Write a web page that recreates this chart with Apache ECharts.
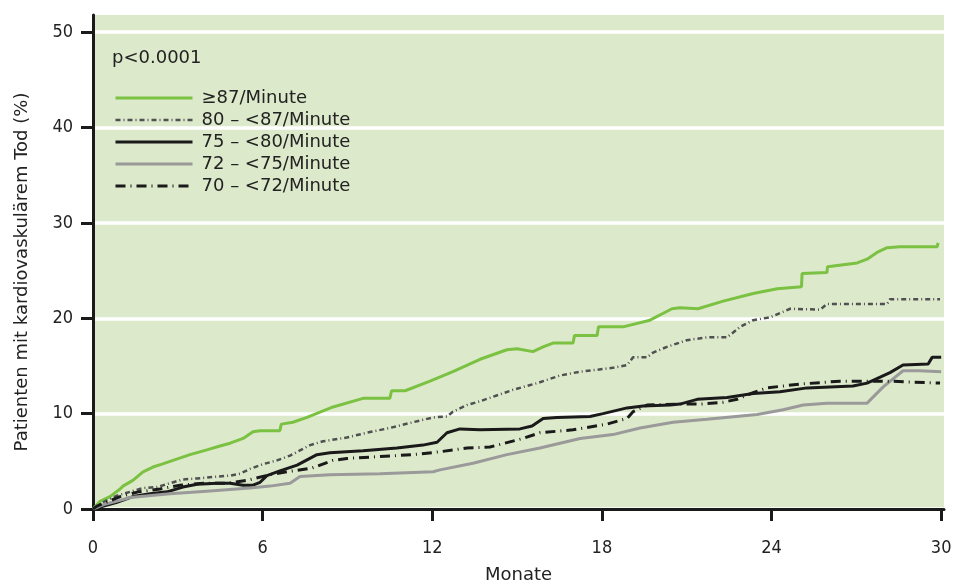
<!DOCTYPE html>
<html>
<head>
<meta charset="utf-8">
<script src="https://cdn.jsdelivr.net/npm/echarts@6/dist/echarts.min.js"></script>
<style>
html,body{margin:0;padding:0;background:#fff;}
#chart{width:954px;height:584px;}
</style>
</head>
<body>
<div id="chart"></div>
<script>
// Tick labels
var xTicks = [0, 6, 12, 18, 24, 30];
var yTicks = [0, 10, 20, 30, 40, 50];
var seriesNames = ['\u226587/Minute', '80 \u2013 <87/Minute', '75 \u2013 <80/Minute', '72 \u2013 <75/Minute', '70 \u2013 <72/Minute'];

// [months, percent]
var hr87 = [[0,0],[0.25,0.8],[0.6,1.3],[0.96,2.1],[1.06,2.4],[1.41,3.0],[1.77,3.9],[2.12,4.4],[2.44,4.7],[2.83,5.1],[3.43,5.7],[4.03,6.2],[4.49,6.6],[4.85,6.9],[5.31,7.4],[5.66,8.1],[5.91,8.2],[6.61,8.2],[6.66,8.9],[7.07,9.1],[7.57,9.6],[8.49,10.7],[9.55,11.6],[10.5,11.6],[10.56,12.4],[11.04,12.4],[11.92,13.4],[12.73,14.4],[13.69,15.7],[14.64,16.7],[15.0,16.8],[15.56,16.5],[15.92,17.0],[16.27,17.4],[16.98,17.4],[17.03,18.2],[17.83,18.2],[17.88,19.1],[18.75,19.1],[19.7,19.8],[20.48,21.0],[20.76,21.1],[21.4,21.0],[22.29,21.8],[23.35,22.6],[24.2,23.1],[25.06,23.3],[25.08,24.7],[25.96,24.8],[25.98,25.4],[27.03,25.8],[27.38,26.2],[27.73,26.9],[28.09,27.4],[28.55,27.5],[29.86,27.5],[29.89,27.9]];
var hr80 = [[0,0],[0.35,0.7],[0.85,1.4],[1.31,1.8],[1.77,2.2],[2.26,2.3],[2.72,2.7],[3.18,3.1],[3.68,3.2],[4.39,3.4],[4.85,3.5],[5.2,3.7],[5.55,4.2],[6.01,4.7],[6.51,5.1],[6.97,5.6],[7.68,6.7],[8.14,7.1],[8.98,7.5],[9.69,8.0],[10.5,8.5],[11.32,9.1],[12.03,9.6],[12.52,9.7],[12.73,10.2],[13.23,10.9],[13.69,11.3],[14.86,12.5],[15.71,13.2],[16.52,14.0],[17.23,14.4],[18.39,14.8],[18.89,15.1],[19.1,15.9],[19.6,15.9],[19.81,16.4],[20.3,17.0],[21.0,17.7],[21.72,18.0],[22.43,18.0],[22.89,19.1],[23.35,19.8],[23.95,20.1],[24.66,21.0],[25.72,20.9],[25.96,21.5],[28.09,21.5],[28.19,22.0],[29.96,22.0]];
var hr75 = [[0,0],[0.25,0.2],[0.85,0.7],[1.41,1.3],[2.02,1.6],[2.62,1.8],[3.18,2.3],[3.68,2.6],[4.39,2.7],[4.85,2.7],[5.31,2.5],[5.66,2.5],[5.91,2.8],[6.15,3.5],[6.61,4.0],[7.22,4.6],[7.92,5.7],[8.38,5.9],[9.55,6.1],[10.75,6.4],[11.67,6.7],[12.17,7.0],[12.52,8.0],[12.98,8.4],[13.69,8.3],[15.1,8.4],[15.53,8.7],[15.92,9.5],[16.41,9.6],[17.58,9.7],[18.04,10.0],[18.89,10.6],[19.46,10.8],[20.41,10.9],[20.76,11.0],[21.37,11.5],[22.43,11.7],[23.35,12.1],[24.3,12.3],[25.26,12.7],[26.88,12.9],[27.38,13.2],[28.19,14.3],[28.65,15.1],[29.54,15.2],[29.68,15.9],[30.0,15.9]];
var hr72 = [[0,0],[0.42,0.5],[0.96,0.9],[1.31,1.2],[2.72,1.6],[4.14,1.9],[5.55,2.2],[6.26,2.4],[6.97,2.7],[7.32,3.4],[8.38,3.6],[10.15,3.7],[12.03,3.9],[12.27,4.1],[13.44,4.8],[14.64,5.7],[15.81,6.4],[17.23,7.4],[18.39,7.8],[19.35,8.5],[20.52,9.1],[21.72,9.4],[23.49,9.9],[24.41,10.4],[25.12,10.9],[25.96,11.1],[27.38,11.1],[27.95,12.8],[28.65,14.5],[29.25,14.5],[30.0,14.4]];
var hr70 = [[0,0],[0.14,0.3],[0.96,1.3],[1.6,1.8],[2.37,2.1],[3.08,2.5],[3.9,2.7],[4.74,2.7],[5.45,3.0],[6.26,3.6],[6.86,3.9],[7.75,4.3],[8.49,5.1],[8.98,5.3],[10.15,5.5],[11.32,5.7],[12.27,6.0],[13.23,6.4],[14.04,6.5],[15.21,7.4],[15.81,8.0],[16.98,8.3],[18.18,8.9],[18.89,9.5],[19.1,10.2],[19.6,10.9],[20.76,11.0],[21.47,11.0],[22.29,11.2],[22.78,11.5],[23.35,12.2],[23.84,12.7],[25.01,13.1],[26.42,13.4],[28.19,13.4],[29.96,13.2]];

var FONT = 'DejaVu Sans';
var TICKFONT = "'DejaVu Sans Condensed', 'Liberation Sans Narrow', 'DejaVu Sans'";
var chart = echarts.init(document.getElementById('chart'), null, {renderer: 'canvas'});
function mk(name, data, color, width, type) {
  return {
    name: name, type: 'line', data: data, symbol: 'none', showSymbol: false,
    smooth: false, animation: false,
    lineStyle: {color: color, width: width, type: type, cap: 'butt'},
    itemStyle: {color: color}
  };
}
chart.setOption({
  animation: false,
  backgroundColor: '#ffffff',
  title: {
    text: 'p<0.0001', left: 107, top: 44,
    textStyle: {fontFamily: FONT, fontSize: 18, fontWeight: 'normal', color: '#222'}
  },
  legend: {
    orient: 'vertical', left: 109, top: 84,
    itemWidth: 77, itemHeight: 14, itemGap: 4,
    data: seriesNames.map(function (n, i) {
      return i === 1 ? {name: n, lineStyle: {width: 2.5}} : {name: n};
    }),
    itemStyle: {opacity: 0},
    lineStyle: {width: 3},
    textStyle: {fontFamily: FONT, fontSize: 18, color: '#222', lineHeight: 18, padding: [0, 0, 0, 4]}
  },
  grid: {left: 93, right: 10, top: 15, bottom: 75, show: true, backgroundColor: '#dde9cb', borderWidth: 0,
         containLabel: false, outerBoundsMode: 'none'},
  xAxis: {
    type: 'value', min: 0, max: 30.1, interval: 6,
    name: 'Monate', nameLocation: 'middle', nameGap: 57,
    nameTextStyle: {fontFamily: FONT, fontSize: 18, color: '#222'},
    axisLine: {show: true, onZero: false, lineStyle: {color: '#1a1a1a', width: 3}},
    axisTick: {show: true, inside: false, length: 12, lineStyle: {color: '#1a1a1a', width: 3}, customValues: xTicks},
    axisLabel: {fontFamily: TICKFONT, fontSize: 18, color: '#222', margin: 30, customValues: xTicks},
    splitLine: {show: false}
  },
  yAxis: {
    type: 'value', min: 0, max: 51.8, interval: 10,
    name: 'Patienten mit kardiovaskulärem Tod (%)', nameLocation: 'middle', nameGap: 62,
    nameTextStyle: {fontFamily: FONT, fontSize: 18, color: '#222', padding: [0, 20, 0, 0]},
    axisLine: {show: true, onZero: false, lineStyle: {color: '#1a1a1a', width: 3}},
    axisTick: {show: true, inside: false, length: 12, lineStyle: {color: '#1a1a1a', width: 3}, customValues: yTicks},
    axisLabel: {fontFamily: TICKFONT, fontSize: 18, color: '#222', margin: 20, customValues: yTicks},
    splitLine: {show: true, lineStyle: {color: '#ffffff', width: 3.5}}
  },
  series: [
    mk(seriesNames[0], hr87, '#7bc142', 3, 'solid'),
    mk(seriesNames[1], hr80, '#505050', 2.5, [5, 3, 1, 3]),
    mk(seriesNames[2], hr75, '#1a1a1a', 3, 'solid'),
    mk(seriesNames[3], hr72, '#9a9a9a', 3, 'solid'),
    mk(seriesNames[4], hr70, '#1a1a1a', 3, [10, 5, 1, 5])
  ]
});
</script>
</body>
</html>
